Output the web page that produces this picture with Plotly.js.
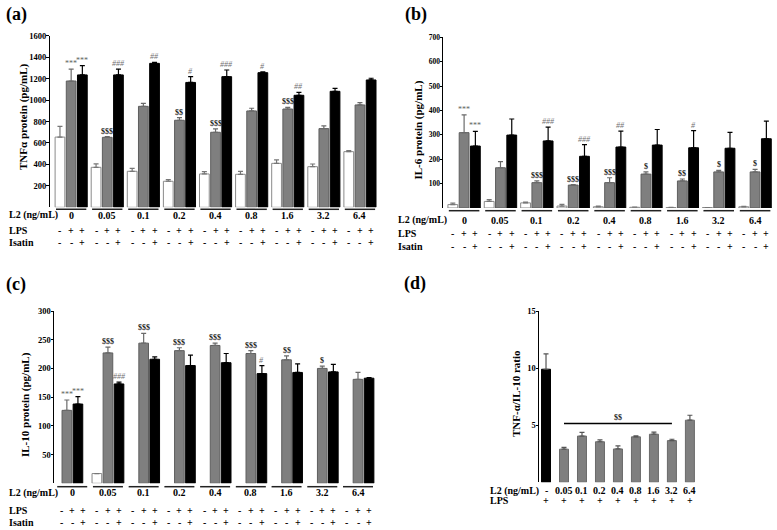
<!DOCTYPE html>
<html><head><meta charset="utf-8">
<script src="https://cdn.plot.ly/plotly-3.0.1.min.js"></script>
<style>body{margin:0;background:#fff}#chart{width:777px;height:530px}</style>
</head><body><div id="chart"></div>
<script>
// ---------- data ----------
const groups = ['0','0.05','0.1','0.2','0.4','0.8','1.6','3.2','6.4'];
const lpsSigns = ['-','+','+'];
const isatinSigns = ['-','-','+'];

// (a) TNF-alpha
const tnfCtrl      = [655, 373, 336, 243, 311, 308, 410, 379, 519];
const tnfCtrlErr   = [100, 32, 28, 15, 22, 28, 32, 25, 10];
const tnfLps       = [1178, 653, 942, 812, 700, 899, 917, 734, 955];
const tnfLpsErr    = [112, 6, 28, 25, 31, 25, 16, 25, 22];
const tnfIsatin    = [1235, 1235, 1343, 1165, 1219, 1256, 1045, 1082, 1188];
const tnfIsatinErr = [87, 55, 10, 55, 62, 7, 28, 28, 16];
const tnfLpsMarks    = ['***','$$$','','$$','$$$','','$$$','',''];
const tnfIsatinMarks = ['***','###','##','#','###','#','##','',''];

// (b) IL-6
const il6Ctrl      = [14, 27, 21, 8, 5, 3, 2, 2, 5];
const il6CtrlErr   = [6, 7, 3, 7, 3, 1, 1, 0, 2];
const il6Lps       = [309, 165, 104, 94, 104, 139, 111, 148, 148];
const il6LpsErr    = [73, 25, 7, 2, 20, 9, 8, 6, 10];
const il6Isatin    = [254, 299, 275, 212, 250, 258, 247, 245, 284];
const il6IsatinErr = [60, 66, 57, 48, 65, 64, 70, 65, 72];
const il6LpsMarks    = ['***','','$$$','$$$','$$$','$','$$','$','$'];
const il6IsatinMarks = ['***','','###','###','##','','#','',''];

// (c) IL-10
const il10Ctrl      = [null, 17, null, null, null, null, null, null, null];
const il10CtrlErr   = [0, 0, 0, 0, 0, 0, 0, 0, 0];
const il10Lps       = [127, 227, 244, 231, 240, 226, 215, 200, 181];
const il10LpsErr    = [18, 10, 17, 5, 4, 5, 7, 4, 12];
const il10Isatin    = [138, 173, 216, 205, 210, 191, 193, 194, 183];
const il10IsatinErr = [13, 3, 4, 18, 16, 14, 15, 13, 1];
const il10LpsMarks    = ['***','$$$','$$$','$$$','$$$','$$$','$$','$',''];
const il10IsatinMarks = ['***','###','','','','#','','',''];

// (d) TNF-alpha / IL-10 ratio
const ratioLabels = ['-','0.05','0.1','0.2','0.4','0.8','1.6','3.2','6.4'];
const ratio       = [9.9, 2.9, 4.05, 3.55, 2.92, 3.98, 4.21, 3.65, 5.44];
const ratioErr    = [1.35, 0.15, 0.33, 0.17, 0.27, 0.08, 0.18, 0.12, 0.43];
const ratioSig    = '$$';

// tick values
const tnfTicks  = [200,400,600,800,1000,1200,1400,1600];
const il6Ticks  = [100,200,300,400,500,600,700];
const il10Ticks = [50,100,150,200,250,300];
const ratioTicks = [5,10,15];

// ---------- layout helpers ----------
const W = 777, H = 530;
const FONT = '"Liberation Serif", "Times New Roman", serif';
const px = x => x / W;
const py = y => 1 - y / H;
const OFF = 0.31, BW = 0.27;
const GRAY = '#7f7f7f';
const idx = groups.map((_, i) => i);

const traces = [];
const annotations = [];
const shapes = [];

function txt(xref, yref, x, y, text, size, extra) {
  annotations.push(Object.assign({xref: xref, yref: yref, x: x, y: y, text: text, showarrow: false,
    xanchor: 'center', yanchor: 'middle', borderpad: 0,
    font: {family: FONT, size: size, color: '#000'}}, extra || {}));
}
function addBar(xa, ya, xs, ys, errs, fill, lineCol, errCol, width) {
  traces.push({
    type: 'bar', x: xs, y: ys, xaxis: xa, yaxis: ya, width: width,
    marker: {color: fill, line: {color: lineCol, width: 1}},
    error_y: {type: 'data', symmetric: false, array: errs, arrayminus: errs.map(() => 0),
              color: errCol, thickness: 1.2, width: 2.5},
    showlegend: false, hoverinfo: 'skip'
  });
}
function addMarks(xa, ya, xs, ys, errs, marks) {
  marks.forEach((m, i) => {
    if (!m) return;
    let text, color;
    if (m[0] === '#') { text = '<i>' + m + '</i>'; color = '#707070'; }
    else if (m[0] === '*') { text = m; color = '#606060'; }
    else { text = '<b>' + m + '</b>'; color = '#222'; }
    txt(xa, ya, xs[i], ys[i] + errs[i], text, 8, {yanchor: 'bottom', font: {family: FONT, size: 8, color: color}});
  });
}
function addRows(xa, rows, labelX, underY) {
  idx.forEach(g => {
    shapes.push({type: 'line', xref: xa, yref: 'paper', x0: g - 0.42, x1: g + 0.42,
                 y0: py(underY), y1: py(underY), line: {color: '#222', width: 1.5}});
    txt(xa, 'paper', g, py(rows[0]), '<b>' + groups[g] + '</b>', 10);
    [-OFF, 0, OFF].forEach((o, k) => {
      txt(xa, 'paper', g + o, py(rows[1]), '<b>' + lpsSigns[k] + '</b>', 10);
      txt(xa, 'paper', g + o, py(rows[2]), '<b>' + isatinSigns[k] + '</b>', 10);
    });
  });
  [['L2 (ng/mL)', rows[0]], ['LPS', rows[1]], ['Isatin', rows[2]]].forEach(([t, y]) => {
    txt('paper', 'paper', px(labelX), py(y), '<b>' + t + '</b>', 10, {xanchor: 'left'});
  });
}
function panel(xa, ya, ctrl, ctrlErr, lps, lpsErr, isa, isaErr, lpsMarks, isaMarks, shift0) {
  const sh = i => (i === 0 ? shift0 : 0);
  const xc = idx.map(i => i - OFF + sh(i));
  const xl = idx.map(i => i + sh(i));
  const xi = idx.map(i => i + OFF + sh(i));
  addBar(xa, ya, xc, ctrl, ctrlErr, '#ffffff', '#8a8a8a', '#777', BW);
  addBar(xa, ya, xl, lps, lpsErr, GRAY, '#5e5e5e', '#6a6a6a', BW);
  addBar(xa, ya, xi, isa, isaErr, '#000000', '#000000', '#000000', BW);
  addMarks(xa, ya, xl, lps, lpsErr, lpsMarks);
  addMarks(xa, ya, xi, isa, isaErr, isaMarks);
}

panel('x', 'y', tnfCtrl, tnfCtrlErr, tnfLps, tnfLpsErr, tnfIsatin, tnfIsatinErr, tnfLpsMarks, tnfIsatinMarks, 0);
panel('x2', 'y2', il6Ctrl, il6CtrlErr, il6Lps, il6LpsErr, il6Isatin, il6IsatinErr, il6LpsMarks, il6IsatinMarks, 0);
panel('x3', 'y3', il10Ctrl, il10CtrlErr, il10Lps, il10LpsErr, il10Isatin, il10IsatinErr, il10LpsMarks, il10IsatinMarks, -0.15);

addRows('x', [215, 230, 242.5], 8, 209.3);
addRows('x2', [220, 233.3, 246.7], 397, 210.7);
addRows('x3', [492.5, 510, 522.3], 8, 486.7);

// panel d
traces.push({
  type: 'bar', x: idx, y: ratio, xaxis: 'x4', yaxis: 'y4', width: 0.5,
  marker: {color: idx.map(i => i === 0 ? '#000000' : GRAY), line: {color: idx.map(i => i === 0 ? '#000' : '#6a6a6a'), width: 1}},
  error_y: {type: 'data', symmetric: false, array: ratioErr, arrayminus: ratioErr.map(() => 0),
            color: '#555', thickness: 1.2, width: 2.5},
  showlegend: false, hoverinfo: 'skip'
});
const sigY = Math.max(...ratio.slice(1, 8).map((v, i) => v + ratioErr[i + 1])) + 0.75;
shapes.push({type: 'line', xref: 'x4', yref: 'y4', x0: 1, x1: 7, y0: sigY, y1: sigY, line: {color: '#000', width: 1.5}});
txt('x4', 'y4', 4, sigY, '<b>' + ratioSig + '</b>', 8, {yanchor: 'bottom', yshift: 1, font: {family: FONT, size: 8, color: '#222'}});
ratioLabels.forEach((t, i) => {
  txt('x4', 'paper', i, py(490.5), '<b>' + t + '</b>', 10);
  txt('x4', 'paper', i, py(500.5), '<b>+</b>', 10);
});
txt('paper', 'paper', px(489), py(490.5), '<b>L2 (ng/mL)</b>', 10, {xanchor: 'left'});
txt('paper', 'paper', px(489), py(500.5), '<b>LPS</b>', 10, {xanchor: 'left'});

// y-axis titles
[['TNFα protein (pg/mL)', 23, 117], ['IL-6 protein (pg/mL)', 418.5, 130],
 ['IL-10 protein (pg/mL)', 25, 405], ['TNF-α/IL-10 ratio', 516, 394]].forEach(([t, x, y]) => {
  txt('paper', 'paper', px(x), py(y), '<b>' + t + '</b>', 11, {textangle: -90});
});

// panel letters
[['(a)', 5, 15], ['(b)', 404, 15], ['(c)', 5, 284], ['(d)', 403, 283]].forEach(([t, x, y]) => {
  txt('paper', 'paper', px(x), py(y), '<b>' + t + '</b>', 18, {xanchor: 'left'});
});

function xAxis(d0, d1, r0, r1, anchor) {
  return {domain: [px(d0), px(d1)], range: [r0, r1], anchor: anchor, visible: false, fixedrange: true};
}
function yAxis(d0, d1, r1, ticks, anchor, fs) {
  return {domain: [py(d0), py(d1)], range: [0, r1], anchor: anchor, showline: true, linecolor: '#000', linewidth: 1,
          ticks: 'outside', ticklen: 2.5, tickwidth: 1, tickcolor: '#000', tickvals: ticks,
          ticklabelstandoff: -2,
          tickfont: {family: FONT, size: fs, color: '#000', weight: 'bold'},
          showgrid: false, zeroline: false, fixedrange: true, automargin: false};
}

const layout = {
  width: W, height: H, margin: {l: 0, r: 0, t: 0, b: 0, pad: 0}, autosize: false,
  paper_bgcolor: '#fff', plot_bgcolor: 'rgba(0,0,0,0)', barmode: 'overlay', showlegend: false,
  xaxis: xAxis(49.5, 378, -0.6, 8.5, 'y'),
  yaxis: yAxis(207.3, 35.8, 1600, tnfTicks, 'x', 8.5),
  xaxis2: xAxis(443, 774, -0.58, 8.52, 'y2'),
  yaxis2: yAxis(208, 37.3, 700, il6Ticks, 'x2', 7.5),
  xaxis3: xAxis(54, 378, -0.51, 8.56, 'y3'),
  yaxis3: yAxis(483.3, 311, 300, il10Ticks, 'x3', 8.5),
  xaxis4: xAxis(539, 698, -0.39, 8.45, 'y4'),
  yaxis4: yAxis(482.3, 311, 15, ratioTicks, 'x4', 8.5),
  annotations: annotations, shapes: shapes
};

Plotly.newPlot('chart', traces, layout, {staticPlot: true, typesetMath: false, displayModeBar: false});
</script>
</body></html>
